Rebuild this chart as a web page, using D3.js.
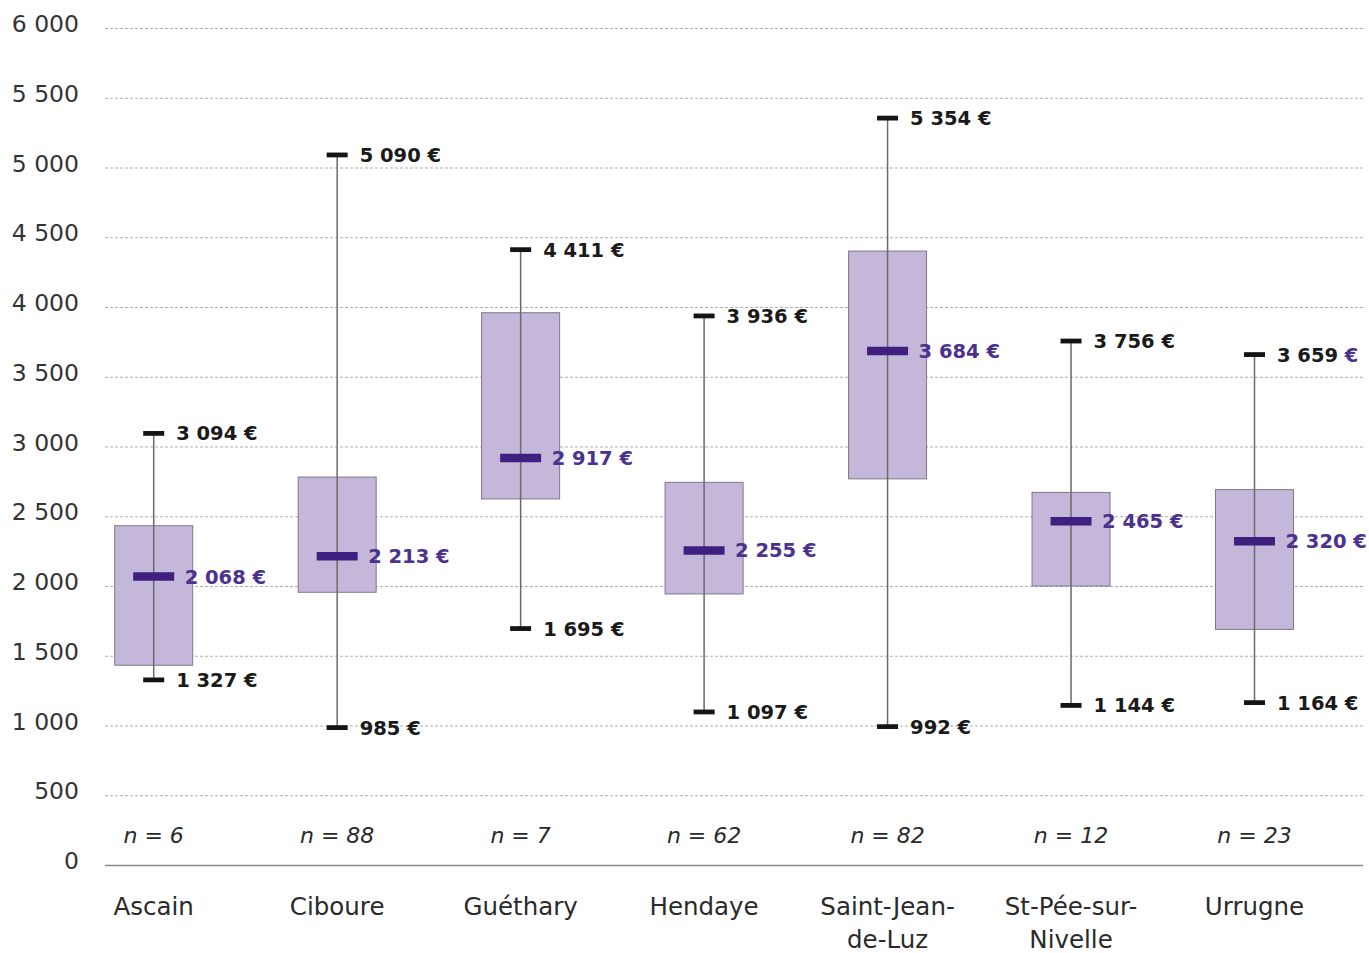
<!DOCTYPE html>
<html><head><meta charset="utf-8">
<script src="https://cdn.jsdelivr.net/npm/d3@7"></script>
<style>body{margin:0;background:#fff}svg{display:block}</style>
</head><body>
<svg id="chart" width="1369" height="953"></svg>
<script>
const categories = ["Ascain","Ciboure","Guéthary","Hendaye","Saint-Jean-de-Luz","St-Pée-sur-Nivelle","Urrugne"];
const categoryLines = [["Ascain"],["Ciboure"],["Guéthary"],["Hendaye"],["Saint-Jean-","de-Luz"],["St-Pée-sur-","Nivelle"],["Urrugne"]];
const counts = [6,88,7,62,82,12,23];
const minima = [1327,985,1695,1097,992,1144,1164];
const maxima = [3094,5090,4411,3936,5354,3756,3659];
const medians = [2068,2213,2917,2255,3684,2465,2320];
const q1 = [1432,1955,2624,1943,2768,2000,1689];
const q3 = [2432,2781,3959,2743,4401,2671,2691];
const yTicks = [0,500,1000,1500,2000,2500,3000,3500,4000,4500,5000,5500,6000];

const svg = d3.select("#chart");
const left = 105, right = 1363;
const x = d3.scalePoint().domain(categories).range([153.7, 1254.5]);
const y = d3.scaleLinear().domain([0,6000]).range([865, 28]);
const loc = d3.formatLocale({decimal:",", thousands:" ", grouping:[3], currency:["","\u00a0€"]});
const fmt = loc.format(",d");
const FONT = "'DejaVu Sans', sans-serif";

// grid + y axis
const ax = svg.append("g").attr("transform", `translate(${left},0)`)
  .call(d3.axisLeft(y).tickValues(yTicks).tickFormat(fmt).tickSize(-(right-left)).tickPadding(26));
ax.select(".domain").remove();
ax.selectAll(".tick line")
  .attr("stroke", d => d === 0 ? "#8a8a8a" : "#9a9a9a")
  .attr("stroke-width", d => d === 0 ? 1.3 : 0.8)
  .attr("stroke-dasharray", d => d === 0 ? null : "3,2");
ax.selectAll(".tick text")
  .attr("y", -4).attr("fill", "#333").style("font-family", FONT).style("font-size", "23.5px");

const data = categories.map((c,i) => ({c, lines: categoryLines[i], n: counts[i], min: minima[i], max: maxima[i], med: medians[i], q1: q1[i], q3: q3[i]}));

const g = svg.append("g");
// boxes
g.selectAll("rect.box").data(data).join("rect").attr("class","box")
  .attr("x", d => x(d.c) - 39).attr("width", 78)
  .attr("y", d => y(d.q3)).attr("height", d => y(d.q1) - y(d.q3))
  .attr("fill", "#c4b7d9").attr("stroke", "#7d7889").attr("stroke-width", 1);
// whiskers
g.selectAll("line.wh").data(data).join("line").attr("class","wh")
  .attr("x1", d => x(d.c)).attr("x2", d => x(d.c))
  .attr("y1", d => y(d.max)).attr("y2", d => y(d.min))
  .attr("stroke", "#6a6a6a").attr("stroke-width", 1.5);
// caps
["max","min"].forEach(k => {
  g.selectAll("line.cap"+k).data(data).join("line").attr("class","cap"+k)
    .attr("x1", d => x(d.c) - 10.5).attr("x2", d => x(d.c) + 10.5)
    .attr("y1", d => y(d[k])).attr("y2", d => y(d[k]))
    .attr("stroke", "#141414").attr("stroke-width", 4.8);
  g.selectAll("text.lab"+k).data(data).join("text").attr("class","lab"+k)
    .attr("x", d => x(d.c) + 22.5).attr("y", d => y(d[k])).attr("dy", "0.36em")
    .style("font-family", FONT).style("font-size", "19.5px").style("font-weight", "bold")
    .attr("fill", "#1a1a1a")
    .each(function(d, i) {
      const t = d3.select(this);
      t.append("tspan").text(fmt(d[k]) + " ");
      const purpleEuro = (k === "max" && d.c === "Urrugne");
      t.append("tspan").text("€").attr("fill", purpleEuro ? "#4b3190" : null);
    });
});
// medians
g.selectAll("line.med").data(data).join("line").attr("class","med")
  .attr("x1", d => x(d.c) - 20.5).attr("x2", d => x(d.c) + 20.5)
  .attr("y1", d => y(d.med)).attr("y2", d => y(d.med))
  .attr("stroke", "#3f2080").attr("stroke-width", 8.5);
g.selectAll("text.labmed").data(data).join("text").attr("class","labmed")
  .attr("x", d => x(d.c) + 31).attr("y", d => y(d.med)).attr("dy", "0.36em")
  .style("font-family", FONT).style("font-size", "19.5px").style("font-weight", "bold")
  .attr("fill", "#4b3190")
  .text(d => fmt(d.med) + " €");

// n labels
g.selectAll("text.n").data(data).join("text").attr("class","n")
  .attr("x", d => x(d.c)).attr("y", 835).attr("dy", "0.36em").attr("text-anchor","middle")
  .style("font-family", FONT).style("font-size", "22px").style("font-style","italic")
  .attr("fill", "#2a2a2a")
  .text(d => "n = " + d.n);

// category labels
g.selectAll("text.cat").data(data).join("text").attr("class","cat")
  .attr("text-anchor","middle")
  .style("font-family", FONT).style("font-size", "24.5px").attr("fill", "#2a2a2a")
  .each(function(d) {
    const t = d3.select(this);
    d.lines.forEach((ln, j) => {
      t.append("tspan").attr("x", x(d.c)).attr("y", 906 + j*33).attr("dy","0.36em").text(ln);
    });
  });
</script>
</body></html>
